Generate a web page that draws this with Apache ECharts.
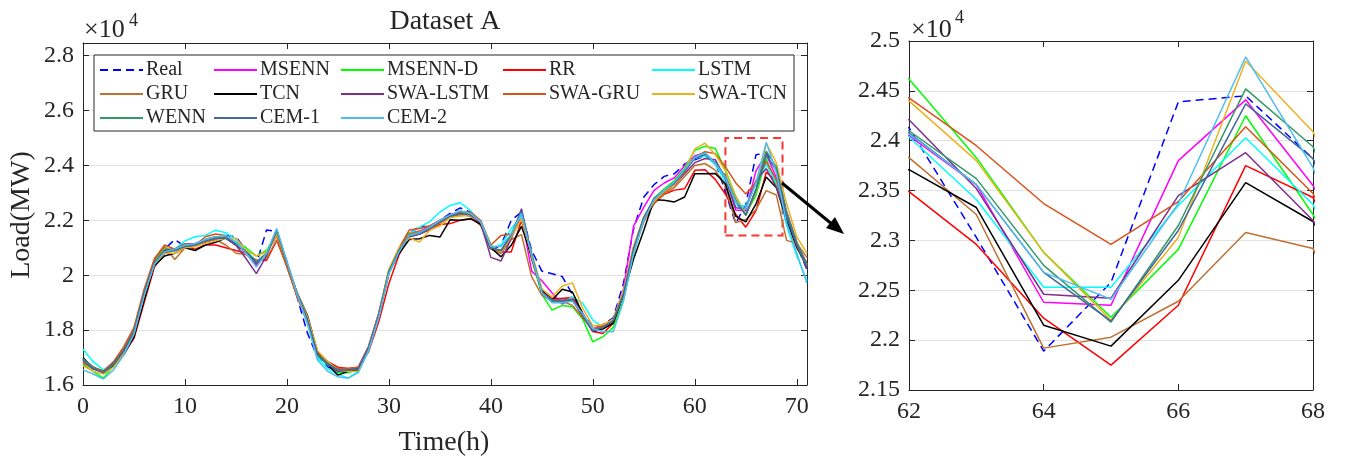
<!DOCTYPE html>
<html>
<head>
<meta charset="utf-8">
<script src="https://cdn.jsdelivr.net/npm/echarts@6/dist/echarts.min.js"></script>
<style>
  html, body { margin: 0; padding: 0; background: #fff; }
  #main { width: 1355px; height: 458px; }
</style>
</head>
<body>
<div id="main"></div>
<script>
// hours 0..71
const hours = Array.from({ length: 72 }, (_, i) => i)

const seriesNames = ['Real', 'MSENN', 'MSENN-D', 'RR', 'LSTM', 'GRU', 'TCN', 'SWA-LSTM', 'SWA-GRU', 'SWA-TCN', 'WENN', 'CEM-1', 'CEM-2']

// load in MW
const real = [
  16950, 16600, 16450, 16750, 17300, 18000, 19300, 20500, 20950, 21300,
  21050, 21150, 21250, 21350, 21450, 21400, 20900, 20400, 21650, 21600,
  20500, 19200, 17900, 17000, 16650, 16500, 16500, 16600, 17300, 18600,
  20100, 20950, 21500, 21800, 21750, 22000, 22250, 22450, 22300, 21950,
  20900, 21100, 22000, 22300, 20900, 20150, 20050, 19950, 19300, 18600,
  18100, 18200, 18450, 19700, 21700, 22850, 23300, 23600, 23700, 24050,
  24200, 24350, 24130, 23030, 21890, 22580, 24390, 24450, 23820, 22300,
  21100, 20200]
const msenn = [
  16850, 16580, 16500, 16800, 17300, 17950, 19400, 20500, 20950, 20950,
  21150, 21150, 21250, 21300, 21400, 21150, 20800, 20350, 20800, 21650,
  20400, 19250, 18300, 17150, 16750, 16550, 16500, 16650, 17400, 18600,
  20150, 20950, 21550, 21600, 21800, 22000, 22200, 22300, 22200, 21900,
  21000, 20800, 21350, 22150, 20150, 19800, 19350, 18950, 19150, 18600,
  18050, 18150, 18350, 19500, 21800, 22480, 23090, 23360, 23550, 24000,
  24350, 24450, 24050, 23560, 22380, 22350, 23800, 24410, 23550, 22300,
  21200, 20400]
const msennD = [
  16750, 16500, 16250, 16700, 17250, 17950, 19300, 20500, 21000, 20900,
  21100, 21050, 21300, 21400, 21350, 21200, 21000, 20700, 20900, 21550,
  20450, 19300, 18350, 17050, 16750, 16450, 16450, 16550, 17350, 18550,
  20200, 20950, 21550, 21550, 21750, 21950, 22150, 22300, 22250, 21950,
  21100, 20800, 21450, 22000, 20600, 19300, 18730, 18900, 18850, 18400,
  17570, 17760, 18100, 19100, 20800, 22050, 22800, 23150, 23450, 23900,
  24550, 24700, 24620, 23830, 22880, 22230, 22910, 24250, 23260, 22000,
  21000, 20350]
const rr = [
  16950, 16650, 16500, 16750, 17150, 17700, 19000, 20300, 20800, 20950,
  21050, 20950, 21100, 21100, 21000, 20900, 20800, 20550, 20540, 21270,
  20350, 19250, 18400, 17200, 16850, 16650, 16600, 16650, 17200, 18300,
  19700, 20750, 21400, 21500, 21650, 21850, 21880, 22000, 22060, 21900,
  21050, 20850, 20850, 22000, 20600, 19400, 19150, 19150, 19200, 18550,
  17950, 17880, 18250, 19300, 20900, 22000, 22700, 22950, 23100, 23150,
  23820, 23840, 23490, 22960, 22220, 21750, 22350, 23750, 23430, 22000,
  21000, 20450]
const lstm = [
  17300, 16850, 16550, 16800, 17300, 18000, 19350, 20450, 20900, 20950,
  21250, 21400, 21450, 21640, 21550, 21300, 20900, 20500, 20800, 21550,
  20450, 19250, 18250, 17000, 16600, 16400, 16250, 16500, 17250, 18500,
  20050, 20900, 21500, 21750, 21950, 22300, 22540, 22640, 22350, 21900,
  21000, 21100, 21700, 22150, 20800, 19500, 19050, 19050, 19200, 18980,
  18360, 18100, 18300, 19250, 21000, 22100, 22750, 23050, 23350, 23800,
  24250, 24350, 24040, 23410, 22530, 22530, 23350, 24030, 23360, 21800,
  20700, 19800]
const gru = [
  16800, 16600, 16500, 16800, 17300, 18000, 19400, 20550, 21050, 20570,
  21000, 21050, 21200, 21300, 21100, 20800, 20750, 20500, 20600, 21300,
  20300, 19250, 18300, 17150, 16800, 16500, 16550, 16600, 17350, 18500,
  20100, 20950, 21500, 21600, 21700, 21900, 22100, 22200, 22150, 21800,
  20950, 20800, 21300, 21480, 19940, 19270, 19050, 19050, 18900, 18450,
  18000, 18050, 18300, 19300, 20900, 21950, 22600, 22950, 23200, 23600,
  24000, 24070, 23830, 23260, 21920, 22030, 22390, 23080, 22920, 21270,
  21160, 20650]
const tcn = [
  17000, 16600, 16500, 16700, 17100, 17750, 19100, 20350, 20700, 20800,
  21000, 20900, 21100, 21200, 21350, 21100, 20850, 20450, 20800, 21500,
  20400, 19350, 18550, 17200, 16750, 16360, 16500, 16550, 17300, 18550,
  20100, 20800, 21300, 21330, 21450, 21390, 22020, 22000, 22060, 21850,
  21000, 20670, 21090, 21780, 20700, 19450, 19100, 19490, 19390, 18600,
  17950, 18050, 18250, 19300, 20600, 21640, 22750, 22730, 22670, 22850,
  23700, 23700, 23710, 23330, 22150, 21940, 22600, 23580, 23190, 22000,
  21050, 20300]
const swaLstm = [
  16900, 16600, 16450, 16750, 17250, 17950, 19350, 20450, 20900, 20950,
  21100, 21150, 21300, 21400, 21350, 21100, 20600, 20060, 20700, 21650,
  20450, 19300, 18350, 17100, 16750, 16500, 16550, 16600, 17350, 18600,
  20150, 20900, 21400, 21500, 21700, 21950, 22150, 22250, 22250, 21900,
  20650, 20520, 21350, 22420, 20750, 19400, 19100, 19150, 19100, 18500,
  17950, 18100, 18350, 19350, 21000, 22100, 22750, 23100, 23300, 23700,
  24100, 24250, 24210, 23520, 22460, 22420, 23450, 23880, 23200, 22150,
  21100, 20250]
const swaGru = [
  16850, 16650, 16500, 16850, 17400, 18100, 19500, 20600, 21100, 20950,
  21150, 21100, 21400, 21500, 21450, 21200, 20800, 20450, 20800, 21450,
  20300, 19200, 18300, 17150, 16800, 16600, 16600, 16650, 17400, 18600,
  20200, 21000, 21650, 21700, 21800, 22000, 22200, 22300, 22300, 22000,
  21100, 21450, 21500, 22000, 20750, 19350, 19100, 19100, 19100, 18500,
  18050, 18150, 18400, 19400, 21050, 22050, 22650, 23000, 23300, 23750,
  24300, 24500, 24430, 23950, 23370, 22960, 23390, 24140, 23470, 22200,
  21150, 20350]
const swaTcn = [
  16700, 16500, 16400, 16650, 17150, 17900, 19300, 20400, 20800, 20800,
  21000, 21050, 21150, 21250, 21350, 21350, 20900, 20700, 20850, 21500,
  20450, 19350, 18500, 17250, 16850, 16550, 16500, 16500, 17350, 18600,
  20200, 21000, 21350, 21210, 21640, 21800, 22100, 22150, 22200, 21950,
  21050, 20850, 21400, 22050, 20800, 19500, 19210, 19610, 19720, 18800,
  18150, 18200, 18400, 19450, 21050, 22150, 22700, 23050, 23300, 23800,
  24600, 24810, 24400, 23800, 22880, 22200, 23030, 24800, 24090, 22600,
  21400, 20800]
const wenn = [
  16950, 16650, 16450, 16750, 17250, 17950, 19350, 20450, 20850, 20900,
  21050, 21100, 21250, 21350, 21400, 21150, 20850, 20450, 20750, 21600,
  20450, 19300, 18350, 17100, 16800, 16550, 16550, 16600, 17350, 18550,
  20150, 20900, 21450, 21550, 21700, 21950, 22150, 22250, 22250, 21950,
  21000, 20900, 21450, 22300, 20700, 19350, 19050, 19000, 19100, 18550,
  18000, 18100, 18350, 19300, 20950, 22100, 22750, 23100, 23400, 23850,
  24300, 24450, 24100, 23620, 22750, 22180, 23150, 24520, 23940, 22300,
  21200, 20400]
const cem1 = [
  16900, 16600, 16450, 16800, 17250, 17950, 19350, 20450, 20850, 20900,
  21050, 21100, 21250, 21350, 21350, 21150, 20850, 20450, 20750, 21650,
  20450, 19350, 18400, 17100, 16750, 16550, 16550, 16600, 17350, 18550,
  20100, 20900, 21450, 21500, 21700, 21950, 22150, 22250, 22200, 21950,
  21000, 20900, 21500, 22350, 20750, 19350, 19100, 19050, 19100, 18550,
  18000, 18100, 18350, 19300, 20950, 22100, 22800, 23100, 23350, 23800,
  24250, 24400, 24080, 23560, 22680, 22190, 23100, 24370, 23820, 22150,
  21100, 20300]
const cem2 = [
  16550, 16400, 16220, 16550, 17100, 17850, 19250, 20400, 20850, 20950,
  21100, 21150, 21300, 21400, 21450, 21200, 20800, 20300, 20800, 21700,
  20500, 19300, 18250, 16900, 16500, 16300, 16250, 16450, 17250, 18450,
  20050, 20850, 21450, 21550, 21750, 22000, 22200, 22350, 22250, 21950,
  21050, 21050, 21500, 22250, 20700, 19350, 19000, 19000, 19050, 18600,
  18050, 17940, 17940, 19050, 20800, 22000, 22750, 23100, 23400, 23850,
  24300, 24450, 24070, 23560, 22680, 22410, 23370, 24840, 23730, 21900,
  20800, 19700]

const seriesValues = [real, msenn, msennD, rr, lstm, gru, tcn, swaLstm, swaGru, swaTcn, wenn, cem1, cem2]
const colors = ['#0000ff', '#ff00ff', '#00ff00', '#ff0000', '#00ffff', '#bf7030', '#000000',
  '#7e2f8e', '#d95319', '#edb120', '#339966', '#44689c', '#4dbeee']

const legendCols = [['Real', 'GRU', 'WENN'], ['MSENN', 'TCN', 'CEM-1'], ['MSENN-D', 'SWA-LSTM', 'CEM-2'], ['RR', 'SWA-GRU'], ['LSTM', 'SWA-TCN']]
const legendLeft = [99, 213, 340, 502, 651]

const FONT = 'Liberation Serif'
const INK = '#262626'

function makeX (grid, pos, min, max, step, labels) {
  return {
    gridIndex: grid,
    type: 'value',
    position: pos,
    min: min,
    max: max,
    interval: step,
    axisLine: { onZero: false, lineStyle: { color: INK, width: 1 } },
    axisTick: { inside: true, length: 6, lineStyle: { color: INK } },
    axisLabel: {
      show: labels,
      color: INK,
      fontSize: 24,
      fontFamily: FONT,
      margin: 10,
      formatter: v => ((v - min) % step === 0 ? String(v) : '')
    },
    splitLine: { show: false }
  }
}

function makeY (grid, pos, min, max, step, labels) {
  return {
    gridIndex: grid,
    type: 'value',
    position: pos,
    min: min,
    max: max,
    interval: step,
    axisLine: { onZero: false, lineStyle: { color: INK, width: 1 } },
    axisTick: { inside: true, length: 6, lineStyle: { color: INK } },
    axisLabel: {
      show: labels,
      color: INK,
      fontSize: 24,
      fontFamily: FONT,
      margin: 9,
      formatter: v => ((v - min) % step === 0 ? String(v / 1e4) : '')
    },
    splitLine: { show: labels, lineStyle: { color: '#e2e2e2', width: 1 } }
  }
}

const chart = echarts.init(document.getElementById('main'))

const series = []
seriesNames.forEach((name, k) => {
  const pts = hours.map((h, i) => [h, seriesValues[k][i]])
  const lineStyle = { color: colors[k], width: 1.5, type: k === 0 ? [8, 5] : 'solid' }
  const main = {
    name: name,
    type: 'line',
    xAxisIndex: 0,
    yAxisIndex: 0,
    data: pts,
    showSymbol: false,
    symbol: 'none',
    color: colors[k],
    lineStyle: lineStyle
  }
  if (k === 0) {
    main.markArea = {
      silent: true,
      itemStyle: { color: 'rgba(0,0,0,0)', borderColor: '#ff3333', borderWidth: 2, borderType: [8, 5] },
      data: [[{ coord: [63, 21450] }, { coord: [68.6, 25000] }]]
    }
  }
  series.push(main)
  series.push({
    name: name,
    type: 'line',
    xAxisIndex: 2,
    yAxisIndex: 2,
    data: pts,
    showSymbol: false,
    symbol: 'none',
    color: colors[k],
    lineStyle: lineStyle,
    clip: true
  })
})

const option = {
  animation: false,
  backgroundColor: '#fff',
  textStyle: { fontFamily: FONT },
  grid: [
    { left: 83, top: 43, width: 724, height: 342 },
    { left: 909, top: 41, width: 404, height: 349 }
  ],
  xAxis: [
    makeX(0, 'bottom', 0, 71, 10, true),
    makeX(0, 'top', 0, 71, 10, false),
    makeX(1, 'bottom', 62, 68, 2, true),
    makeX(1, 'top', 62, 68, 2, false)
  ],
  yAxis: [
    makeY(0, 'left', 16000, 28460, 2000, true),
    makeY(0, 'right', 16000, 28460, 2000, false),
    makeY(1, 'left', 21500, 25000, 500, true),
    makeY(1, 'right', 21500, 25000, 500, false)
  ],
  legend: legendCols.map((d, i) => ({
    data: d,
    left: legendLeft[i],
    top: 60,
    orient: 'vertical',
    itemWidth: 43,
    itemHeight: 14,
    itemGap: 4,
    padding: 0,
    selectedMode: false,
    z: 10,
    itemStyle: { opacity: 0 },
    textStyle: { fontSize: 20, fontFamily: FONT, color: INK, padding: [0, 0, 0, -2] }
  })),
  graphic: [
    { type: 'rect', z: 5, shape: { x: 94, y: 55, width: 700, height: 76 }, style: { fill: '#fff', stroke: INK, lineWidth: 1 } },
    { type: 'text', x: 445, y: 22, style: { text: 'Dataset A', font: '28px "Liberation Serif"', fill: INK, align: 'center', verticalAlign: 'middle' } },
    { type: 'text', x: 444, y: 443, style: { text: 'Time(h)', font: '28px "Liberation Serif"', fill: INK, align: 'center', verticalAlign: 'middle' } },
    { type: 'text', x: 22, y: 215, rotation: Math.PI / 2, style: { text: 'Load(MW)', font: '28px "Liberation Serif"', fill: INK, align: 'center', verticalAlign: 'middle' } },
    { type: 'text', x: 84, y: 30, style: { text: '×10', font: '26px "Liberation Serif"', fill: INK, align: 'left', verticalAlign: 'middle' } },
    { type: 'text', x: 129, y: 21, style: { text: '4', font: '18px "Liberation Serif"', fill: INK, align: 'left', verticalAlign: 'middle' } },
    { type: 'text', x: 911, y: 30, style: { text: '×10', font: '26px "Liberation Serif"', fill: INK, align: 'left', verticalAlign: 'middle' } },
    { type: 'text', x: 955, y: 18, style: { text: '4', font: '18px "Liberation Serif"', fill: INK, align: 'left', verticalAlign: 'middle' } },
    { type: 'line', z: 20, shape: { x1: 782, y1: 183, x2: 833, y2: 225 }, style: { stroke: '#000', lineWidth: 3 } },
    { type: 'polygon', z: 20, shape: { points: [[844, 234], [826, 228], [835, 217]] }, style: { fill: '#000' } }
  ],
  series: series
}

option && chart.setOption(option)
</script>
</body>
</html>
